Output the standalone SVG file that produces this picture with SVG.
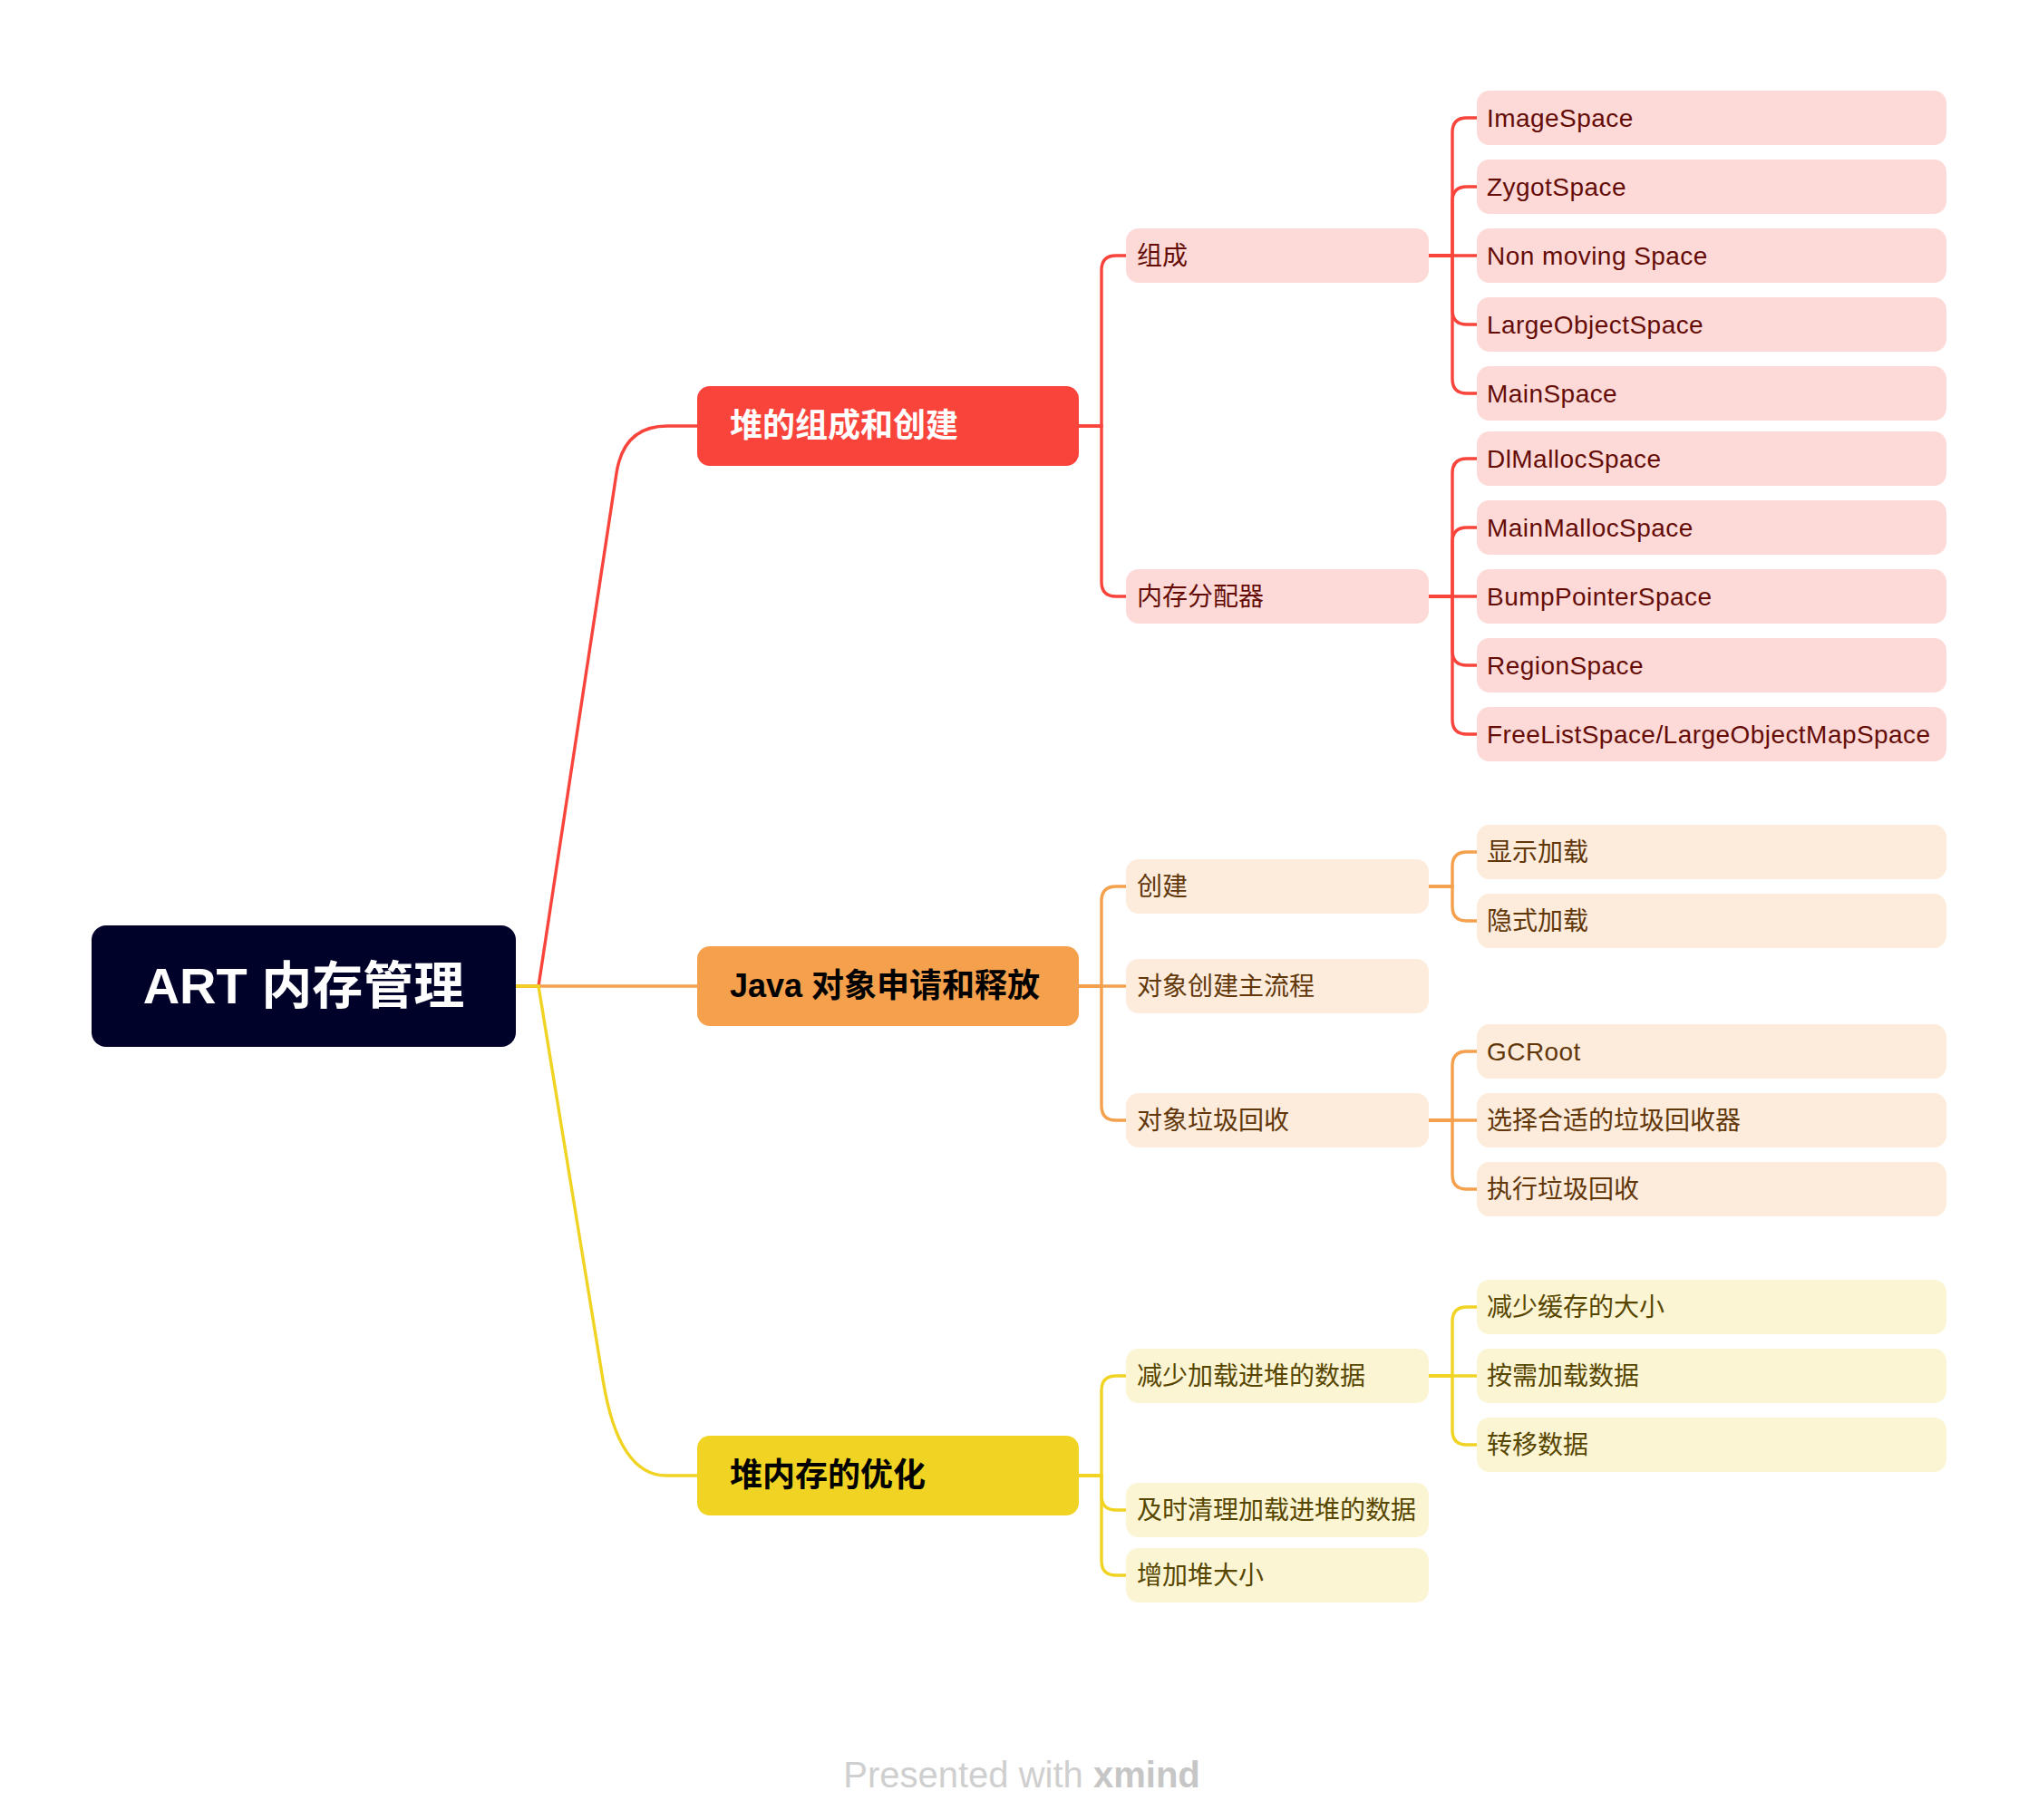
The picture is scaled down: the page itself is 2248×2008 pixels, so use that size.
<svg xmlns="http://www.w3.org/2000/svg" width="2248" height="2008" viewBox="0 0 2248 2008">
<style>
text{font-family:"Liberation Sans","Noto Sans CJK SC",sans-serif}
.c{fill:none;stroke-width:3.4}
.cr{stroke:#F9443C}.co{stroke:#F5A04D}.cy{stroke:#F1D423}
.l1{font-size:28px}
.en{letter-spacing:0.45px}
.lr{fill:#FDDAD8}.lo{fill:#FDEBDC}.ly{fill:#FCF5D3}
.tr{fill:#650C07}.to{fill:#613709}.ty{fill:#574600}
.m{font-size:36px;font-weight:bold}
</style>
<rect width="2248" height="2008" fill="#FFFFFF"/>
<g id="connectors">
<path class="c cr" d="M568,1088 H594 L680,522 Q688,470 736,470 H769"/>
<path class="c co" d="M568,1088 H769"/>
<path class="c cy" d="M568,1088 H594 L665,1522 Q682,1628 735,1628 H769"/>
<path class="c cr" d="M1190,470 H1215 V298 Q1215,282 1231,282 H1242"/>
<path class="c cr" d="M1190,470 H1215 V642 Q1215,658 1231,658 H1242"/>
<path class="c cr" d="M1576,282 H1602 V146 Q1602,130 1618,130 H1629"/>
<path class="c cr" d="M1576,282 H1602 V222 Q1602,206 1618,206 H1629"/>
<path class="c cr" d="M1576,282 H1629"/>
<path class="c cr" d="M1576,282 H1602 V342 Q1602,358 1618,358 H1629"/>
<path class="c cr" d="M1576,282 H1602 V418 Q1602,434 1618,434 H1629"/>
<path class="c cr" d="M1576,658 H1602 V522 Q1602,506 1618,506 H1629"/>
<path class="c cr" d="M1576,658 H1602 V598 Q1602,582 1618,582 H1629"/>
<path class="c cr" d="M1576,658 H1629"/>
<path class="c cr" d="M1576,658 H1602 V718 Q1602,734 1618,734 H1629"/>
<path class="c cr" d="M1576,658 H1602 V794 Q1602,810 1618,810 H1629"/>
<path class="c co" d="M1190,1088 H1215 V994 Q1215,978 1231,978 H1242"/>
<path class="c co" d="M1190,1088 H1242"/>
<path class="c co" d="M1190,1088 H1215 V1220 Q1215,1236 1231,1236 H1242"/>
<path class="c co" d="M1576,978 H1602 V956 Q1602,940 1618,940 H1629"/>
<path class="c co" d="M1576,978 H1602 V1000 Q1602,1016 1618,1016 H1629"/>
<path class="c co" d="M1576,1236 H1602 V1176 Q1602,1160 1618,1160 H1629"/>
<path class="c co" d="M1576,1236 H1629"/>
<path class="c co" d="M1576,1236 H1602 V1296 Q1602,1312 1618,1312 H1629"/>
<path class="c cy" d="M1190,1628 H1215 V1534 Q1215,1518 1231,1518 H1242"/>
<path class="c cy" d="M1190,1628 H1215 V1650 Q1215,1666 1231,1666 H1242"/>
<path class="c cy" d="M1190,1628 H1215 V1722 Q1215,1738 1231,1738 H1242"/>
<path class="c cy" d="M1576,1518 H1602 V1458 Q1602,1442 1618,1442 H1629"/>
<path class="c cy" d="M1576,1518 H1629"/>
<path class="c cy" d="M1576,1518 H1602 V1578 Q1602,1594 1618,1594 H1629"/>
</g>
<g id="root"><rect x="101" y="1021" width="468" height="134" rx="16" fill="#000229"/><text x="335" y="1107" text-anchor="middle" font-size="56" font-weight="bold" fill="#FFFFFF">ART 内存管理</text></g>
<g id="n-heap"><rect x="769" y="426" width="421" height="88" rx="14" fill="#F9443C"/><text class="m" x="805" y="482" fill="#FFFFFF">堆的组成和创建</text></g>
<g id="n-java"><rect x="769" y="1044" width="421" height="88" rx="14" fill="#F5A04D"/><text class="m" x="805" y="1100" fill="#000000">Java 对象申请和释放</text></g>
<g id="n-opt"><rect x="769" y="1584" width="421" height="88" rx="14" fill="#F1D423"/><text class="m" x="805" y="1640" fill="#000000">堆内存的优化</text></g>
<g id="n-zucheng"><rect class="lr" x="1242" y="252" width="334" height="60" rx="14"/><text class="l1 tr" x="1254" y="292">组成</text></g>
<g id="n-alloc"><rect class="lr" x="1242" y="628" width="334" height="60" rx="14"/><text class="l1 tr" x="1254" y="668">内存分配器</text></g>
<g id="n-image"><rect class="lr" x="1629" y="100" width="518" height="60" rx="14"/><text class="l1 tr en" x="1640" y="140">ImageSpace</text></g>
<g id="n-zygot"><rect class="lr" x="1629" y="176" width="518" height="60" rx="14"/><text class="l1 tr en" x="1640" y="216">ZygotSpace</text></g>
<g id="n-nonmoving"><rect class="lr" x="1629" y="252" width="518" height="60" rx="14"/><text class="l1 tr en" x="1640" y="292">Non moving Space</text></g>
<g id="n-large"><rect class="lr" x="1629" y="328" width="518" height="60" rx="14"/><text class="l1 tr en" x="1640" y="368">LargeObjectSpace</text></g>
<g id="n-main"><rect class="lr" x="1629" y="404" width="518" height="60" rx="14"/><text class="l1 tr en" x="1640" y="444">MainSpace</text></g>
<g id="n-dlmalloc"><rect class="lr" x="1629" y="476" width="518" height="60" rx="14"/><text class="l1 tr en" x="1640" y="516">DlMallocSpace</text></g>
<g id="n-mainmalloc"><rect class="lr" x="1629" y="552" width="518" height="60" rx="14"/><text class="l1 tr en" x="1640" y="592">MainMallocSpace</text></g>
<g id="n-bump"><rect class="lr" x="1629" y="628" width="518" height="60" rx="14"/><text class="l1 tr en" x="1640" y="668">BumpPointerSpace</text></g>
<g id="n-region"><rect class="lr" x="1629" y="704" width="518" height="60" rx="14"/><text class="l1 tr en" x="1640" y="744">RegionSpace</text></g>
<g id="n-freelist"><rect class="lr" x="1629" y="780" width="518" height="60" rx="14"/><text class="l1 tr en" x="1640" y="820">FreeListSpace/LargeObjectMapSpace</text></g>
<g id="n-create"><rect class="lo" x="1242" y="948" width="334" height="60" rx="14"/><text class="l1 to" x="1254" y="988">创建</text></g>
<g id="n-flow"><rect class="lo" x="1242" y="1058" width="334" height="60" rx="14"/><text class="l1 to" x="1254" y="1098">对象创建主流程</text></g>
<g id="n-gc"><rect class="lo" x="1242" y="1206" width="334" height="60" rx="14"/><text class="l1 to" x="1254" y="1246">对象垃圾回收</text></g>
<g id="n-explicit"><rect class="lo" x="1629" y="910" width="518" height="60" rx="14"/><text class="l1 to" x="1640" y="950">显示加载</text></g>
<g id="n-implicit"><rect class="lo" x="1629" y="986" width="518" height="60" rx="14"/><text class="l1 to" x="1640" y="1026">隐式加载</text></g>
<g id="n-gcroot"><rect class="lo" x="1629" y="1130" width="518" height="60" rx="14"/><text class="l1 to en" x="1640" y="1170">GCRoot</text></g>
<g id="n-choose"><rect class="lo" x="1629" y="1206" width="518" height="60" rx="14"/><text class="l1 to" x="1640" y="1246">选择合适的垃圾回收器</text></g>
<g id="n-exec"><rect class="lo" x="1629" y="1282" width="518" height="60" rx="14"/><text class="l1 to" x="1640" y="1322">执行垃圾回收</text></g>
<g id="n-reduce"><rect class="ly" x="1242" y="1488" width="334" height="60" rx="14"/><text class="l1 ty" x="1254" y="1528">减少加载进堆的数据</text></g>
<g id="n-clean"><rect class="ly" x="1242" y="1636" width="334" height="60" rx="14"/><text class="l1 ty" x="1254" y="1676">及时清理加载进堆的数据</text></g>
<g id="n-grow"><rect class="ly" x="1242" y="1708" width="334" height="60" rx="14"/><text class="l1 ty" x="1254" y="1748">增加堆大小</text></g>
<g id="n-cache"><rect class="ly" x="1629" y="1412" width="518" height="60" rx="14"/><text class="l1 ty" x="1640" y="1452">减少缓存的大小</text></g>
<g id="n-ondemand"><rect class="ly" x="1629" y="1488" width="518" height="60" rx="14"/><text class="l1 ty" x="1640" y="1528">按需加载数据</text></g>
<g id="n-move"><rect class="ly" x="1629" y="1564" width="518" height="60" rx="14"/><text class="l1 ty" x="1640" y="1604">转移数据</text></g>
<g id="footer"><text x="1127" y="1972" text-anchor="middle" font-size="40" fill="#CFCFCF">Presented with <tspan font-weight="bold" fill="#C6C6C6">xmind</tspan></text></g>
</svg>
